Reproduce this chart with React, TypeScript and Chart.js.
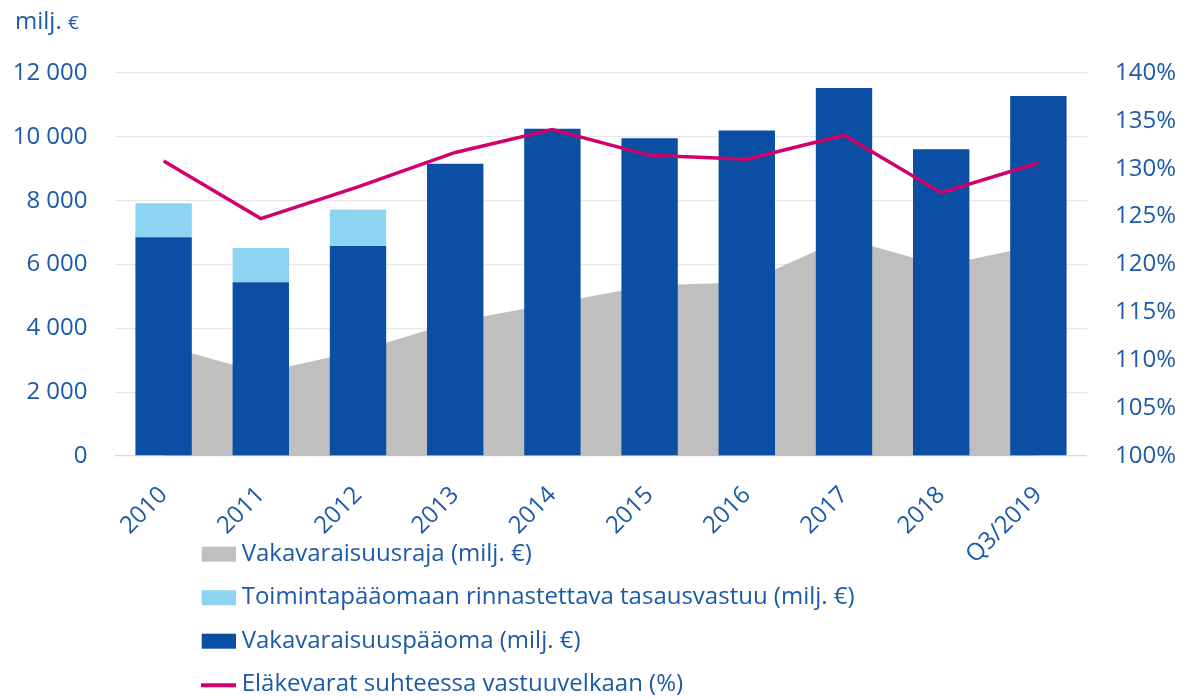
import { useEffect, useRef } from 'react';
import { Chart, registerables } from 'chart.js';

Chart.register(...registerables);

const FONT = "'Open Sans', 'Noto Sans', sans-serif";
const TEXT_BLUE = '#1c5aa8';

const categories = ['2010', '2011', '2012', '2013', '2014', '2015', '2016', '2017', '2018', 'Q3/2019'];
const solvencyCapital = [6855, 5445, 6583, 9154, 10251, 9958, 10198, 11527, 9614, 11276];
const equalisationReserve = [1066, 1075, 1138, null, null, null, null, null, null, null];
const solvencyLimit = [3463, 2620, 3280, 4210, 4775, 5345, 5440, 6820, 5970, 6600];
const fundsToLiabilities = [130.8, 124.8, 128.1, 131.7, 134.1, 131.4, 131.0, 133.5, 127.5, 130.6];

const leftAxis = { min: 0, max: 12000, step: 2000 };
const rightAxis = { min: 100, max: 140, step: 5 };

const LABEL_LIMIT = 'Vakavaraisuusraja (milj. €)';
const LABEL_RESERVE = 'Toimintapääomaan rinnastettava tasausvastuu (milj. €)';
const LABEL_CAPITAL = 'Vakavaraisuuspääoma (milj. €)';
const LABEL_RATIO = 'Eläkevarat suhteessa vastuuvelkaan (%)';
const UNIT_LABEL = 'milj.';
const UNIT_SYMBOL = '€';

const COLOR_LIMIT = '#bfbfbf';
const COLOR_RESERVE = '#8dd4f2';
const COLOR_CAPITAL = '#0a4fa3';
const COLOR_RATIO = '#d1006b';

const legendOrder = [LABEL_LIMIT, LABEL_RESERVE, LABEL_CAPITAL, LABEL_RATIO];

const fmtThousands = (v: number) => String(v).replace(/\B(?=(\d{3})+(?!\d))/g, ' ');

const overlayPlugin = {
  id: 'overlay',
  afterDraw(chart: any) {
    const ctx = chart.ctx as CanvasRenderingContext2D;
    ctx.save();
    ctx.fillStyle = TEXT_BLUE;
    ctx.textBaseline = 'alphabetic';
    ctx.textAlign = 'left';
    ctx.font = `24px ${FONT}`;
    ctx.fillText(UNIT_LABEL, 15, 29);
    const w = ctx.measureText(UNIT_LABEL + ' ').width;
    ctx.font = `19px ${FONT}`;
    ctx.fillText(UNIT_SYMBOL, 15 + w, 29);

    ctx.font = `24px ${FONT}`;
    legendOrder.forEach((label, i) => {
      const ds = chart.data.datasets.find((d: any) => d.label === label);
      const base = 560.7 + i * 43.5;
      if (ds.type === 'line' && !ds.fill) {
        ctx.strokeStyle = ds.borderColor;
        ctx.lineWidth = 4;
        ctx.beginPath();
        ctx.moveTo(201, base - 6);
        ctx.lineTo(236, base - 6);
        ctx.stroke();
      } else {
        ctx.fillStyle = ds.backgroundColor;
        ctx.fillRect(201.7, base - 14, 34.3, 15);
      }
      ctx.fillStyle = TEXT_BLUE;
      ctx.fillText(label, 241.7, base);
    });
    ctx.restore();
  },
};

export default function App() {
  const ref = useRef<HTMLCanvasElement>(null);
  useEffect(() => {
    document.body.style.margin = '0';
    const chart = new Chart(ref.current as HTMLCanvasElement, {
      type: 'bar',
      data: {
        labels: categories,
        datasets: [
          {
            type: 'line',
            label: LABEL_RATIO,
            data: fundsToLiabilities,
            yAxisID: 'y1',
            borderColor: COLOR_RATIO,
            backgroundColor: COLOR_RATIO,
            borderWidth: 3.5,
            pointRadius: 0,
            tension: 0,
            fill: false,
            order: 0,
          } as any,
          {
            type: 'bar',
            label: LABEL_CAPITAL,
            data: solvencyCapital,
            yAxisID: 'y',
            backgroundColor: COLOR_CAPITAL,
            stack: 'capital',
            categoryPercentage: 1,
            barPercentage: 0.58,
            order: 1,
          },
          {
            type: 'bar',
            label: LABEL_RESERVE,
            data: equalisationReserve,
            yAxisID: 'y',
            backgroundColor: COLOR_RESERVE,
            stack: 'capital',
            categoryPercentage: 1,
            barPercentage: 0.58,
            order: 1,
          },
          {
            type: 'line',
            label: LABEL_LIMIT,
            data: solvencyLimit,
            yAxisID: 'y',
            backgroundColor: COLOR_LIMIT,
            borderColor: COLOR_LIMIT,
            borderWidth: 0,
            pointRadius: 0,
            tension: 0,
            fill: 'origin',
            stack: 'limit',
            order: 2,
          } as any,
        ],
      },
      options: {
        responsive: false,
        devicePixelRatio: 1,
        animation: false,
        layout: { padding: { top: 73, bottom: 132, left: 0, right: 0 } },
        plugins: {
          legend: { display: false },
          tooltip: { enabled: false },
          title: { display: false },
        },
        scales: {
          x: {
            stacked: true,
            grid: { display: false },
            border: { display: false },
            ticks: {
              color: TEXT_BLUE,
              font: { family: FONT, size: 24 },
              maxRotation: 45,
              minRotation: 45,
              padding: 17,
              autoSkip: false,
            },
            afterFit(scale: any) {
              scale.height = 110;
            },
          },
          y: {
            stacked: true,
            position: 'left',
            min: leftAxis.min,
            max: leftAxis.max,
            border: { display: false },
            grid: {
              drawTicks: false,
              color: (c: any) => (c.tick && c.tick.value === 0 ? '#d9d9d9' : '#e6e8ec'),
              lineWidth: 1.3,
            },
            ticks: {
              stepSize: leftAxis.step,
              color: TEXT_BLUE,
              font: { family: FONT, size: 24 },
              padding: 27.5,
              callback: (v: any) => fmtThousands(Number(v)),
            },
            afterFit(scale: any) {
              scale.width = 115;
            },
          },
          y1: {
            position: 'right',
            min: rightAxis.min,
            max: rightAxis.max,
            border: { display: false },
            grid: { display: false, drawTicks: false },
            ticks: {
              stepSize: rightAxis.step,
              color: TEXT_BLUE,
              font: { family: FONT, size: 24 },
              padding: 28,
              callback: (v: any) => `${v}%`,
            },
            afterFit(scale: any) {
              scale.width = 95;
            },
          },
        },
      },
      plugins: [overlayPlugin],
    });
    return () => chart.destroy();
  }, []);
  return (
    <div style={{ position: 'absolute', left: 0, top: 0, width: 1182, height: 698 }}>
      <canvas ref={ref} width={1182} height={698} style={{ display: 'block', width: 1182, height: 698 }} />
    </div>
  );
}
